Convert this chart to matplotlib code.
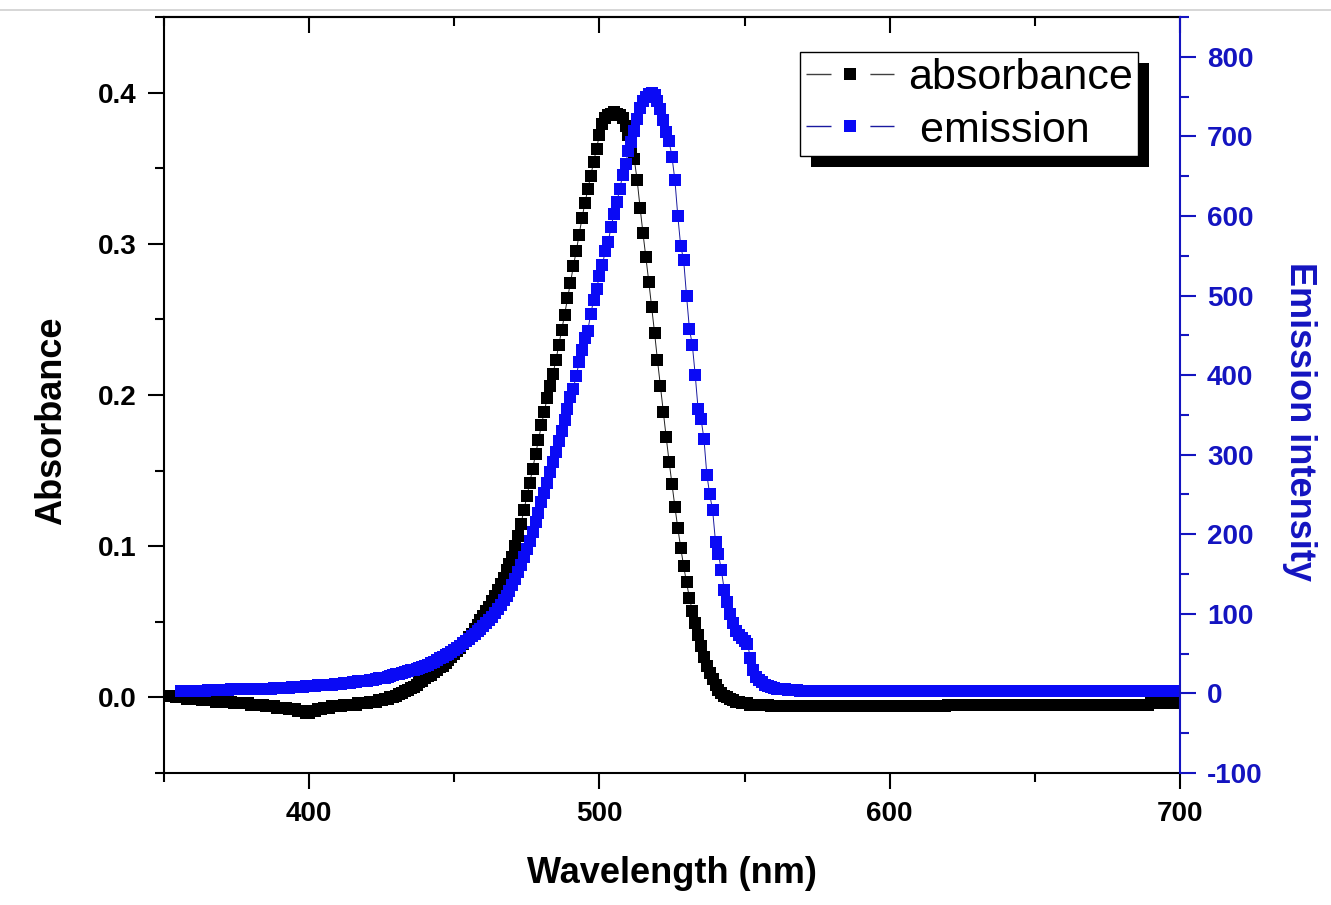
import numpy as np
import matplotlib
matplotlib.use('Agg')
import matplotlib.pyplot as plt
from matplotlib.lines import Line2D
from matplotlib.patches import Rectangle
from matplotlib.transforms import IdentityTransform
from matplotlib.ticker import MultipleLocator, FormatStrFormatter

plt.rcParams['font.family'] = ['Liberation Sans', 'DejaVu Sans']
plt.rcParams['font.weight'] = 'bold'
plt.rcParams['axes.unicode_minus'] = False

# ---------------- data ----------------
abs_start = 350   # nm, 1 nm step
emi_start = 356   # nm, 1 nm step

absorbance = [
    0.001, 0.001, 0.001, 0.001, 0.000, 0.000, 0.000, 0.000, -0.001, -0.001,
    -0.001, -0.001, -0.001, -0.002, -0.002, -0.002, -0.002, -0.002, -0.003, -0.003,
    -0.003, -0.003, -0.003, -0.003, -0.004, -0.004, -0.004, -0.004, -0.004, -0.004,
    -0.005, -0.005, -0.005, -0.005, -0.005, -0.006, -0.006, -0.006, -0.006, -0.007,
    -0.007, -0.007, -0.007, -0.008, -0.008, -0.008, -0.009, -0.009, -0.009, -0.010,
    -0.010, -0.009, -0.009, -0.008, -0.008, -0.007, -0.007, -0.007, -0.006, -0.006,
    -0.006, -0.006, -0.005, -0.005, -0.005, -0.005, -0.005, -0.004, -0.004, -0.004,
    -0.004, -0.003, -0.003, -0.003, -0.002, -0.002, -0.001, -0.001, 0.000, 0.000,
    0.001, 0.002, 0.003, 0.004, 0.005, 0.006, 0.007, 0.008, 0.010, 0.011,
    0.013, 0.014, 0.015, 0.017, 0.018, 0.020, 0.021, 0.023, 0.025, 0.027,
    0.029, 0.031, 0.033, 0.035, 0.037, 0.040, 0.042, 0.045, 0.048, 0.051,
    0.054, 0.057, 0.060, 0.064, 0.067, 0.071, 0.075, 0.079, 0.084, 0.088,
    0.093, 0.100, 0.107, 0.115, 0.124, 0.133, 0.142, 0.151, 0.161, 0.170,
    0.180, 0.189, 0.198, 0.206, 0.214, 0.223, 0.233, 0.243, 0.253, 0.264,
    0.274, 0.285, 0.295, 0.306, 0.317, 0.327, 0.336, 0.345, 0.354, 0.363,
    0.372, 0.379, 0.383, 0.385, 0.386, 0.387, 0.386, 0.385, 0.383, 0.378,
    0.372, 0.364, 0.356, 0.342, 0.324, 0.307, 0.291, 0.275, 0.258, 0.241,
    0.223, 0.206, 0.189, 0.172, 0.156, 0.141, 0.126, 0.112, 0.099, 0.087,
    0.076, 0.066, 0.057, 0.049, 0.041, 0.034, 0.027, 0.021, 0.016, 0.012,
    0.008, 0.005, 0.003, 0.001, 0.000, -0.001, -0.002, -0.003, -0.003, -0.004,
    -0.004, -0.004, -0.005, -0.005, -0.005, -0.005, -0.005, -0.005, -0.005, -0.006,
    -0.006, -0.006, -0.006, -0.006, -0.006, -0.006, -0.006, -0.006, -0.006, -0.006,
    -0.006, -0.006, -0.006, -0.006, -0.006, -0.006, -0.006, -0.006, -0.006, -0.006,
    -0.006, -0.006, -0.006, -0.006, -0.006, -0.006, -0.006, -0.006, -0.006, -0.006,
    -0.006, -0.006, -0.006, -0.006, -0.006, -0.006, -0.006, -0.006, -0.006, -0.006,
    -0.006, -0.006, -0.006, -0.006, -0.006, -0.006, -0.006, -0.006, -0.006, -0.006,
    -0.006, -0.006, -0.006, -0.006, -0.006, -0.006, -0.006, -0.006, -0.006, -0.006,
    -0.005, -0.005, -0.005, -0.005, -0.005, -0.005, -0.005, -0.005, -0.005, -0.005,
    -0.005, -0.005, -0.005, -0.005, -0.005, -0.005, -0.005, -0.005, -0.005, -0.005,
    -0.005, -0.005, -0.005, -0.005, -0.005, -0.005, -0.005, -0.005, -0.005, -0.005,
    -0.005, -0.005, -0.005, -0.005, -0.005, -0.005, -0.005, -0.005, -0.005, -0.005,
    -0.005, -0.005, -0.005, -0.005, -0.005, -0.005, -0.005, -0.005, -0.005, -0.005,
    -0.005, -0.005, -0.005, -0.005, -0.005, -0.005, -0.005, -0.005, -0.005, -0.005,
    -0.005, -0.005, -0.005, -0.005, -0.005, -0.005, -0.005, -0.005, -0.005, -0.005,
    -0.004, -0.004, -0.004, -0.004, -0.004, -0.004, -0.004, -0.004, -0.004, -0.004,
    -0.004,
]

emission = [
    3, 3, 3, 3,
    3, 3, 3, 3, 3, 4, 4, 4, 4, 4,
    4, 4, 4, 5, 5, 5, 5, 5, 5, 5,
    5, 6, 6, 6, 6, 6, 6, 6, 7, 7,
    7, 7, 7, 7, 8, 8, 8, 8, 8, 9,
    9, 9, 9, 10, 10, 10, 11, 11, 11, 12,
    12, 12, 13, 13, 13, 14, 14, 15, 15, 16,
    16, 17, 17, 18, 19, 19, 20, 21, 22, 23,
    24, 25, 26, 27, 28, 29, 30, 31, 32, 33,
    35, 36, 38, 40, 42, 44, 46, 48, 50, 52,
    54, 57, 60, 63, 66, 69, 72, 75, 78, 81,
    85, 88, 92, 96, 101, 106, 111, 117, 123, 129,
    136, 144, 152, 161, 171, 181, 192, 203, 215, 227,
    240, 252, 265, 278, 291, 304, 317, 330, 343, 357,
    372, 383, 399, 416, 431, 446, 456, 477, 494, 508,
    525, 538, 556, 567, 586, 603, 617, 634, 651, 665,
    682, 693, 707, 722, 736, 745, 750, 753, 754, 752,
    745, 735, 720, 705, 694, 674, 645, 600, 562, 545,
    500, 458, 438, 400, 357, 345, 320, 275, 250, 230,
    190, 175, 155, 130, 115, 100, 88, 79, 74, 70,
    66, 62, 45, 30, 21, 17, 14, 11, 9, 8,
    7, 6, 6, 5, 5, 4, 4, 4, 4, 3.5,
    3.5, 3.5, 3, 3, 3, 3, 3, 3, 3, 3,
    2.5, 2.5, 2.5, 2.5, 2.5, 2.5, 2.5, 2.5, 2.5, 2.5, 2.5, 2.5, 2.5, 2.5, 2.5, 2.5, 2.5, 2.5, 2.5, 2.5,
    2.5, 2.5, 2.5, 2.5, 2.5, 2.5, 2.5, 2.5, 2.5, 2.5, 2.5, 2.5, 2.5, 2.5, 2.5, 2.5, 2.5, 2.5, 2.5, 2.5,
    2.5, 2.5, 2.5, 2.5, 2.5, 2.5, 2.5, 2.5, 2.5, 2.5, 2.5, 2.5, 2.5, 2.5, 2.5, 2.5, 2.5, 2.5, 2.5, 2.5,
    2.5, 2.5, 2.5, 2.5, 2.5, 2.5, 2.5, 2.5, 2.5, 2.5, 2.5, 2.5, 2.5, 2.5, 2.5, 2.5, 2.5, 2.5, 2.5, 2.5,
    2.5, 2.5, 2.5, 2.5, 2.5, 2.5, 2.5, 2.5, 2.5, 2.5, 2.5, 2.5, 2.5, 2.5, 2.5, 2.5, 2.5, 2.5, 2.5, 2.5,
    2.5, 2.5, 2.5, 2.5, 2.5, 2.5, 2.5, 2.5, 2.5, 2.5, 2.5, 2.5, 2.5, 2.5, 2.5, 2.5, 2.5, 2.5, 2.5, 2.5,
    2.5,
]

series_labels = ['absorbance', ' emission']
x_label = 'Wavelength (nm)'
y_label_left = 'Absorbance'
y_label_right = 'Emission intensity'

wl_abs = np.arange(abs_start, abs_start + len(absorbance))
wl_emi = np.arange(emi_start, emi_start + len(emission))

# ---------------- style ----------------
BLUE_MK = '#0a0af5'
BLUE_LN = '#1a1aa0'
BLUE_AX = '#1414c0'
W, H = 1331, 905

fig = plt.figure(figsize=(W / 100, H / 100), dpi=100)
fig.patch.set_facecolor('white')
ax = fig.add_axes([164 / W, 1 - 773 / H, 1016 / W, 756 / H])
ax2 = ax.twinx()

ms = 8.0
ax.plot(wl_abs, absorbance, color='#202020', lw=0.7, marker='s', ms=ms,
        mfc='black', mec='black', mew=0)
ax2.plot(wl_emi, emission, color=BLUE_LN, lw=0.7, marker='s', ms=ms,
         mfc=BLUE_MK, mec=BLUE_MK, mew=0)

ax.set_xlim(350, 700)
ax.set_ylim(-0.05, 0.45)
ax2.set_ylim(-100, 850)

ax.xaxis.set_major_locator(MultipleLocator(100))
ax.xaxis.set_minor_locator(MultipleLocator(50))
ax.yaxis.set_major_locator(MultipleLocator(0.1))
ax.yaxis.set_minor_locator(MultipleLocator(0.05))
ax.yaxis.set_major_formatter(FormatStrFormatter('%.1f'))
ax2.yaxis.set_major_locator(MultipleLocator(100))
ax2.yaxis.set_minor_locator(MultipleLocator(50))

ax.tick_params(axis='both', which='major', direction='out', length=11.5, width=1.5,
               labelsize=20, top=False, right=False)
ax.tick_params(axis='both', which='minor', direction='out', length=6.5, width=1.5,
               top=False, right=False)
ax.tick_params(axis='x', which='major', pad=9)
ax.tick_params(axis='y', which='major', pad=8)
ax2.tick_params(axis='y', which='major', direction='out', length=11.5, width=1.5,
                labelsize=20, colors=BLUE_AX, pad=8)
ax2.tick_params(axis='y', which='minor', direction='out', length=6.5, width=1.5,
                colors=BLUE_AX)

for s in ['left', 'bottom', 'top']:
    ax.spines[s].set_linewidth(1.5)
    ax.spines[s].set_color('black')
ax.spines['right'].set_visible(False)
for s in ['left', 'bottom', 'top']:
    ax2.spines[s].set_visible(False)
ax2.spines['right'].set_linewidth(1.5)
ax2.spines['right'].set_color(BLUE_AX)

secax = ax.secondary_xaxis('top')
secax.xaxis.set_major_locator(MultipleLocator(100))
secax.xaxis.set_minor_locator(MultipleLocator(50))
secax.tick_params(which='major', direction='in', length=11.5, width=1.5, labeltop=False)
secax.tick_params(which='minor', direction='in', length=6.5, width=1.5, labeltop=False)
secax.spines['top'].set_linewidth(1.5)

fig.text(52 / W, 1 - 421 / H, y_label_left, rotation=90, ha='center', va='center',
         fontsize=26, fontweight='bold')
fig.text(672 / W, 1 - 873 / H, x_label, ha='center', va='center',
         fontsize=26, fontweight='bold')
fig.text(1300 / W, 1 - 421 / H, y_label_right, rotation=270, ha='center', va='center',
         fontsize=26, fontweight='bold', color=BLUE_AX)

# legend
h1 = Line2D([], [], color='#404040', lw=1.0, dashes=(18, 28), marker='s', ms=ms,
            mfc='black', mec='black', mew=0)
h2 = Line2D([], [], color=BLUE_LN, lw=1.0, dashes=(18, 28), marker='s', ms=ms,
            mfc=BLUE_MK, mec=BLUE_MK, mew=0)
leg = ax2.legend([h1, h2], series_labels, loc='upper left',
                 bbox_to_anchor=((800 - 164) / 1016, (773 - 52) / 756),
                 borderaxespad=0, fancybox=False, edgecolor='black', framealpha=1,
                 prop={'size': 31, 'weight': 'normal'}, handlelength=2.05,
                 handletextpad=0.32, borderpad=0.13, labelspacing=0.3, numpoints=1)
leg.get_frame().set_linewidth(1.0)
leg.set_zorder(10)

fig.canvas.draw()
bb = leg.get_window_extent()
shadow = Rectangle((bb.x0 + 11, bb.y0 - 11), bb.width, bb.height, transform=IdentityTransform(),
                   facecolor='black', edgecolor='none', zorder=9.5, clip_on=False)
ax2.add_artist(shadow)

# thin grey rule at top (screenshot border)
fig.add_artist(Line2D([0, 1], [1 - 10.5 / H, 1 - 10.5 / H], transform=fig.transFigure,
                      color='#cfcfcf', lw=1.2))

fig.savefig('out.png', dpi=100)
